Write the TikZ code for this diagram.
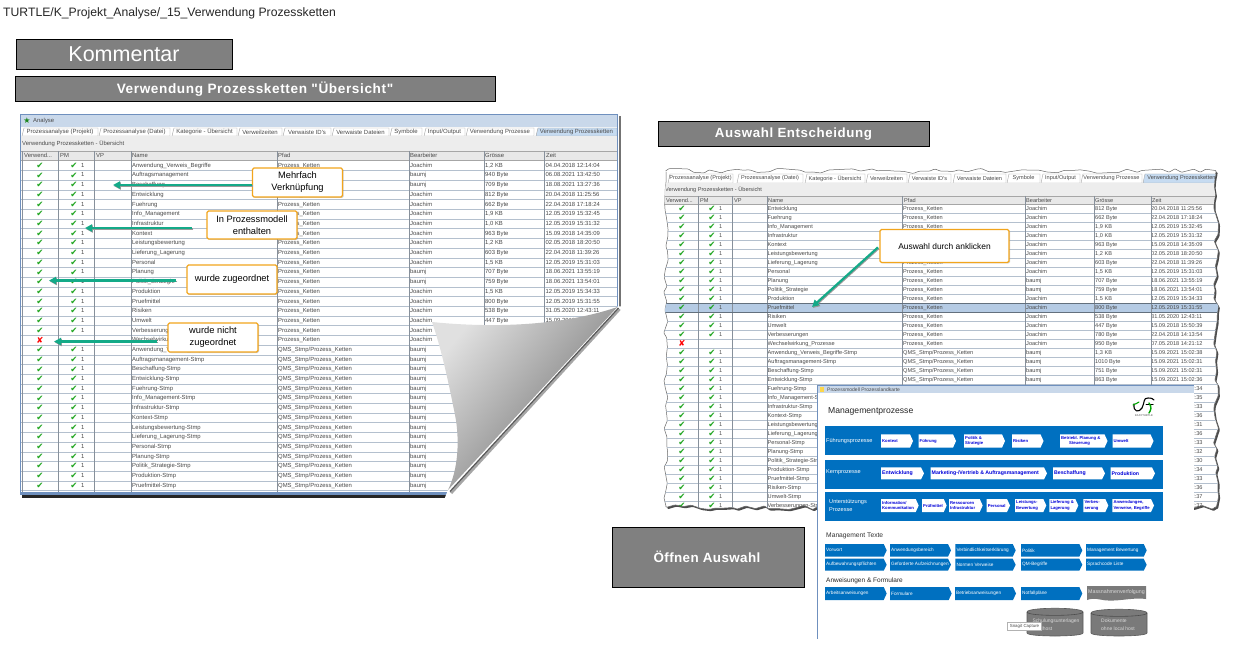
\documentclass[tikz,border=0pt]{standalone}
\usepackage{fontspec}
\setmainfont{Liberation Sans}[Ligatures=TeXOff]
\newfontfamily\dejavu{DejaVu Sans}
\usetikzlibrary{arrows.meta,shadows,decorations.pathmorphing,calc}
\definecolor{txt}{HTML}{4A4A4A}
\definecolor{rowline}{HTML}{B4C0CE}
\definecolor{bluewin}{HTML}{6F90BE}
\definecolor{titlebar}{HTML}{C9D8EA}
\definecolor{tabact}{HTML}{C6DBF1}
\definecolor{band}{HTML}{0070C0}
\definecolor{teal2}{HTML}{14AA88}
\definecolor{orange2}{HTML}{F2A51C}
\definecolor{hl}{HTML}{B5CBE4}
\definecolor{chk}{HTML}{1FA51F}
\newcommand\pk{Prozess\_Ketten}
\newcommand\qk{QMS\_Stmp/Prozess\_Ketten}
\newcommand\ja{Joachim}
\newcommand\ba{baumj}
\newcommand\vwd{Verwend...}
\newcommand\rowdata{%
0/Anwendung\_Verweis\_Begriffe/\pk/\ja/{1,2 KB}/04.04.2018 12:14:04/1,
1/Auftragsmanagement/\pk/\ba/940 Byte/06.08.2021 13:42:50/1,
2/Beschaffung/\pk/\ba/709 Byte/18.08.2021 13:27:36/1,
3/Entwicklung/\pk/\ja/812 Byte/20.04.2018 11:25:56/1,
4/Fuehrung/\pk/\ja/662 Byte/22.04.2018 17:18:24/1,
5/Info\_Management/\pk/\ja/{1,9 KB}/12.05.2019 15:32:45/1,
6/Infrastruktur/\pk/\ja/{1,0 KB}/12.05.2019 15:31:32/1,
7/Kontext/\pk/\ja/963 Byte/15.09.2018 14:35:09/1,
8/Leistungsbewertung/\pk/\ja/{1,2 KB}/02.05.2018 18:20:50/1,
9/Lieferung\_Lagerung/\pk/\ja/603 Byte/22.04.2018 11:39:26/1,
10/Personal/\pk/\ja/{1,5 KB}/12.05.2019 15:31:03/1,
11/Planung/\pk/\ba/707 Byte/18.06.2021 13:55:19/1,
12/Politik\_Strategie/\pk/\ba/759 Byte/18.06.2021 13:54:01/1,
13/Produktion/\pk/\ja/{1,5 KB}/12.05.2019 15:34:33/1,
14/Pruefmittel/\pk/\ja/800 Byte/12.05.2019 15:31:55/1,
15/Risiken/\pk/\ja/538 Byte/31.05.2020 12:43:11/1,
16/Umwelt/\pk/\ja/447 Byte/15.09.2018 15:50:39/1,
17/Verbesserungen/\pk/\ja/780 Byte/22.04.2018 14:13:54/1,
18/Wechselwirkung\_Prozesse/\pk/\ja/950 Byte/07.05.2018 14:21:12/0,
19/Anwendung\_Verweis\_Begriffe-Stmp/\qk/\ba/{1,3 KB}/15.09.2021 15:02:38/1,
20/Auftragsmanagement-Stmp/\qk/\ba/1010 Byte/15.09.2021 15:02:31/1,
21/Beschaffung-Stmp/\qk/\ba/751 Byte/15.09.2021 15:02:31/1,
22/Entwicklung-Stmp/\qk/\ba/863 Byte/15.09.2021 15:02:36/1,
23/Fuehrung-Stmp/\qk/\ba/{}/15.09.2021 15:02:34/1,
24/Info\_Management-Stmp/\qk/\ba/{}/15.09.2021 15:02:35/1,
25/Infrastruktur-Stmp/\qk/\ba/{}/15.09.2021 15:02:33/1,
26/Kontext-Stmp/\qk/\ba/{}/15.09.2021 15:02:36/1,
27/Leistungsbewertung-Stmp/\qk/\ba/{}/15.09.2021 15:02:31/1,
28/Lieferung\_Lagerung-Stmp/\qk/\ba/{}/15.09.2021 15:02:36/1,
29/Personal-Stmp/\qk/\ba/{}/15.09.2021 15:02:33/1,
30/Planung-Stmp/\qk/\ba/{}/15.09.2021 15:02:32/1,
31/Politik\_Strategie-Stmp/\qk/\ba/{}/15.09.2021 15:02:30/1,
32/Produktion-Stmp/\qk/\ba/{}/15.09.2021 15:02:34/1,
33/Pruefmittel-Stmp/\qk/\ba/{}/15.09.2021 15:02:33/1,
34/Risiken-Stmp/\qk/\ba/{}/15.09.2021 15:02:36/1,
35/Umwelt-Stmp/\qk/\ba/{}/15.09.2021 15:02:37/1,
36/Verbesserungen-Stmp/\qk/\ba/{}/15.09.2021 15:02:37/1}
% #1 prefix, #2 y of row 0, #3 row pitch, #4 first row, #5 last row, #6 left x, #7 right x
\newcommand\tablerows[7]{%
  \foreach \rI/\rN/\rP/\rB/\rS/\rT/\rM in \rowdata {%
    \pgfmathtruncatemacro{\rShow}{(\rI>=#4)&&(\rI<=#5)?1:0}%
    \ifnum\rShow=1
      \pgfmathsetmacro{\yy}{#2+#3*(\rI-#4)}%
      \draw[rowline,line width=.5pt] (#6,\yy+#3/2) -- (#7,\yy+#3/2);
      \ifnum\rM=1
        \node[chkn,name=#1c\rI] at (\cA,\yy) {\symbol{"2714}};
        \node[chkn,name=#1p\rI] at (\cB,\yy) {\symbol{"2714}};
        \node[cell,name=#1o\rI] at (\cBn,\yy) {1};
      \else
        \node[chkn,text=red,name=#1c\rI] at (\cA,\yy) {\symbol{"2718}};
      \fi
      \node[cell,name=#1n\rI] at (\cN,\yy) {\rN};
      \node[cell,name=#1f\rI] at (\cP,\yy) {\rP};
      \node[cell,name=#1b\rI] at (\cE,\yy) {\rB};
      \node[cell,name=#1s\rI] at (\cS,\yy) {\rS};
      \node[cell,name=#1t\rI] at (\cT,\yy) {\rT};
    \fi
  }%
}
% #1 name #2 x1 #3 x2 #4 y1 #5 y2 #6 fill #7 text
\newcommand\tabbox[7]{%
  \path[fill=#6,draw=black!35,line width=.4pt] (#2+2,#4) -- (#3,#4) -- (#3,#5) -- (#2,#5) -- cycle;
  \node[tabtext] (#1) at ({(#2+#3)/2},{(#4+#5)/2}) {#7};
}
% #1 name #2 x1 #3 x2 #4 y1 #5 y2 #6 style #7 text
\newcommand\chev[7]{%
  \path[#6] (#2,#4) -- (#3-3,#4) -- (#3,{(#4+#5)/2}) -- (#3-3,#5) -- (#2,#5) -- cycle;
  \node[#6 text,name=#1] at (#2+1,{(#4+#5)/2}) {#7};
}
\newcommand\cyl[4]{%
  \path[fill=black!52,draw=black!65,line width=.6pt] (#1,#3+3) -- (#1,#4-3) .. controls (#1,#4+1) and (#2,#4+1) .. (#2,#4-3) -- (#2,#3+3) .. controls (#2,#3-2) and (#1,#3-2) .. cycle;
  \draw[black!70,line width=.6pt] (#1,#3+3) .. controls (#1,#3+7.5) and (#2,#3+7.5) .. (#2,#3+3);
}
\tikzset{
  x=1pt,y=-1pt,
  cell/.style={anchor=west,inner sep=0pt,text=txt,font=\cellfont,text height=4.3pt,text depth=1.2pt},
  chkn/.style={inner sep=0pt,text=chk,font=\dejavu\fontsize{8.5}{9}\selectfont},
  tabtext/.style={inner sep=0pt,text=txt,font=\tabfont},
  heading/.style={draw=black,line width=.8pt,fill=black!50,text=white,inner sep=0pt},
  callout/.style={draw=orange2,line width=1.1pt,fill=white,rounded corners=1.5pt,text=black,
     align=center,inner sep=0pt,font=\fontsize{9.3}{12}\selectfont,
     drop shadow={shadow xshift=1pt,shadow yshift=-1pt,opacity=.35}},
  pointer/.style={draw=teal2,line width=2.2pt,-{Triangle[length=7pt,width=7pt]},
     preaction={draw=black!40,line width=1.8pt,transform canvas={xshift=.8pt,yshift=-1pt}}},
  torn/.style={decorate,decoration={random steps,segment length=8pt,amplitude=2.6pt},rounded corners=.8pt},
  whitechev/.style={fill=white},
  whitechev text/.style={anchor=west,inner sep=0pt,text=blue!85!black,align=left,font=\bfseries\fontsize{4.2}{5.2}\selectfont},
  bigchev/.style={fill=white},
  bigchev text/.style={anchor=west,inner sep=0pt,text=blue!85!black,font=\bfseries\fontsize{5.2}{7}\selectfont},
  bluechev/.style={fill=band},
  bluechev text/.style={anchor=west,inner sep=0pt,text=white,font=\fontsize{4.7}{5.5}\selectfont},
  hdr/.style={cell},
}
\begin{document}
\begin{tikzpicture}
\useasboundingbox (0,0) rectangle (1235,647);
\fill[white] (0,0) rectangle (1235,647);
\node[anchor=west,inner sep=0pt,font=\fontsize{12.2}{14}\selectfont,text=black!85] (path) at (3,13) {TURTLE/K\_Projekt\_Analyse/\_15\_Verwendung Prozessketten};
\path[heading] (16,39) rectangle (232,69.5);
\node[text=white,inner sep=0pt,font=\fontsize{21.5}{24}\selectfont] (komm) at (124,54.5) {Kommentar};
\path[heading] (15,76.5) rectangle (495.5,101.5);
\node[text=white,inner sep=0pt,font=\bfseries\fontsize{13.6}{15}\selectfont\addfontfeature{LetterSpace=4.5}] (vw) at (255,89) {Verwendung Prozessketten "Übersicht"};
\path[heading] (658,121.5) rectangle (929.5,146.5);
\node[text=white,inner sep=0pt,font=\bfseries\fontsize{13.3}{15}\selectfont\addfontfeature{LetterSpace=4.5}] (ae) at (793.5,134) {Auswahl Entscheidung};
\path[heading] (612,527) rectangle (804,587);
\node[text=white,inner sep=0pt,font=\bfseries\fontsize{13.4}{16}\selectfont\addfontfeature{LetterSpace=3}] (oe) at (707,557) {Öffnen Auswahl};

%%% LEFT WINDOW
\fill[black!55] (619,116) rectangle (620.5,310);
\fill[black!85] (22,495) rectangle (450,497.5);
\begin{scope}
\clip (19,113) rectangle (619,496);
\fill[white] (20,114) rectangle (618,495);
\fill[titlebar] (20,115) rectangle (618,127);
\draw[bluewin,line width=1.2pt] (20.5,114.5) -- (617.5,114.5);
\node[text=chk!80!black,inner sep=0pt,font=\dejavu\fontsize{8}{9}\selectfont] (star) at (27,120.5) {\symbol{"2605}};
\def\cellfont{\fontsize{5.9}{7}\selectfont}
\def\tabfont{\fontsize{6}{7}\selectfont}
\node[cell] (an) at (33,120.5) {Analyse};
\fill[white] (20,127) rectangle (618,136);
\tabbox{ta}{22}{98}{128}{136}{white}{Prozessanalyse (Projekt)}
\tabbox{tb}{99}{170}{128}{136}{white}{Prozessanalyse (Datei)}
\tabbox{tc}{172}{237}{128}{136}{white}{Kategorie - Übersicht}
\tabbox{td}{238}{282}{128}{136}{white}{Verweilzeiten}
\tabbox{te}{283}{331}{128}{136}{white}{Verwaiste ID's}
\tabbox{tf}{332}{389}{128}{136}{white}{Verwaiste Dateien}
\tabbox{tg}{390}{422}{128}{136}{white}{Symbole}
\tabbox{th}{424}{465}{128}{136}{white}{Input/Output}
\tabbox{ti}{466}{534}{128}{136}{white}{Verwendung Prozesse}
\tabbox{tj}{536}{617}{128}{136}{tabact}{Verwendung Prozessketten}
\fill[black!7] (21,136) rectangle (618,151);
\node[cell] (lbl) at (22,144) {Verwendung Prozessketten - Übersicht};
\fill[black!9] (21,151) rectangle (618,160.5);
\draw[black!35,line width=.5pt] (21,151) -- (618,151) (21,160.5) -- (618,160.5);
\foreach \nm/\hx/\hT in {h1/24/\vwd,h2/60/PM,h3/96/VP,h4/132/Name,h5/278/Pfad,h6/410/Bearbeiter,h7/485/Grösse,h8/546/Zeit}
  \node[hdr,name=\nm] at (\hx,156) {\hT};
\def\cA{40}\def\cB{74}\def\cBn{81}\def\cN{132}\def\cP{278}\def\cE{410}\def\cS{485}\def\cT{545.5}
\tablerows{l}{165.7}{9.697}{0}{33}{21}{618}
\foreach \vx in {22,58,94.5,131,277,409,484,544.5}
  \draw[black!25!rowline,line width=.5pt] (\vx,151) -- (\vx,495);
\draw[bluewin,line width=1.2pt] (20.6,114) -- (20.6,495);
\draw[bluewin,line width=1pt] (617.5,114) -- (617.5,320);
\fill[bluewin] (20,491.5) rectangle (450,494.7);
\end{scope}
% page curl
\fill[white] (617.5,306.5) -- (625,306.5) -- (625,500) -- (444,500) -- (448,490) -- cycle;
\draw[black!35,line width=3pt] (619.5,309) -- (451,493);
\draw[black!65,line width=1.2pt] (618.5,308) -- (450,491.5);
\path[top color=black!12,bottom color=black!58,shading angle=50]
  (432,322) .. controls (470,326) and (550,330) .. (617.5,307) -- (448,490)
  .. controls (458,470) and (460,440) .. (455,415) .. controls (450,390) and (442,350) .. cycle;

%%% RIGHT WINDOW
\pgfmathsetseed{11}
\path[fill=black!70,torn,transform canvas={xshift=1.6pt,yshift=-1.8pt}] (666,171) rectangle (1216,507);
\pgfmathsetseed{11}
\path[fill=white,draw=black!60,line width=.5pt,torn] (666,171) rectangle (1216,507);
\begin{scope}
\pgfmathsetseed{11}
\path[clip,torn] (666,171) rectangle (1216,507);
\def\cellfont{\fontsize{5.6}{7}\selectfont}
\def\tabfont{\fontsize{5.6}{7}\selectfont}
\tabbox{ua}{668}{733}{174}{183}{white}{Prozessanalyse (Projekt)}
\tabbox{ub}{737}{803}{174}{183}{white}{Prozessanalyse (Datei)}
\tabbox{uc}{805}{865}{174}{183}{white}{Kategorie - Übersicht}
\tabbox{ud}{866}{907}{174}{183}{white}{Verweilzeiten}
\tabbox{ue}{908}{951}{174}{183}{white}{Verwaiste ID's}
\tabbox{uf}{953}{1006}{174}{183}{white}{Verwaiste Dateien}
\tabbox{ug}{1007}{1040}{174}{183}{white}{Symbole}
\tabbox{uh}{1041}{1080}{174}{183}{white}{Input/Output}
\tabbox{ui}{1081}{1142}{174}{183}{white}{Verwendung Prozesse}
\tabbox{uj}{1143}{1220}{174}{183}{tabact}{Verwendung Prozessketten}
\fill[black!7] (660,183) rectangle (1220,196);
\node[cell] (ulbl) at (665,190) {Verwendung Prozessketten - Übersicht};
\fill[black!9] (660,196) rectangle (1220,204);
\draw[black!35,line width=.5pt] (660,196) -- (1220,196) (660,204) -- (1220,204);
\foreach \nm/\hx/\hT in {u1/666/\vwd,u2/700/PM,u3/734/VP,u4/768/Name,u5/904/Pfad,u6/1026/Bearbeiter,u7/1095/Grösse,u8/1152/Zeit}
  \node[hdr,name=\nm] at (\hx,200.7) {\hT};
\fill[hl] (660,303.2) rectangle (1220,312.2);
\def\cA{682}\def\cB{712}\def\cBn{719}\def\cN{767.5}\def\cP{903}\def\cE{1026}\def\cS{1095}\def\cT{1151}
\tablerows{r}{208.7}{9}{3}{36}{660}{1220}
\foreach \vx in {698,732,767,902,1025,1094,1151}
  \draw[black!25!rowline,line width=.5pt] (\vx,196) -- (\vx,512);
\draw[black!45!hl,line width=.5pt] (660,303.2) -- (1220,303.2) (660,312.2) -- (1220,312.2);
\end{scope}

%%% OVERLAY WINDOW
\fill[white] (817,384.5) rectangle (1194,639);
\fill[titlebar] (818,385.5) rectangle (1194,393);
\draw[bluewin,line width=.8pt] (817,385) -- (1194,385);
\fill[bluewin] (816.5,385) rectangle (818.2,639);
\fill[yellow!60!orange!70] (820,387) rectangle (824,391.5);
\node[anchor=west,inner sep=0pt,text=txt,font=\fontsize{5}{6}\selectfont] (wt) at (827,389.3) {Prozessmodell Prozesslandkarte};
\node[anchor=west,inner sep=0pt,text=black!85,font=\fontsize{8.6}{11}\selectfont] (mp) at (828,411) {Managementprozesse};
% logo
\draw[black,line width=1.1pt,line cap=round] (1134,404) .. controls (1133,412) and (1139,413) .. (1142,408) .. controls (1145,402) and (1143,398) .. (1148,398) .. controls (1152,398) and (1153,399) .. (1154,400);
\draw[black,line width=1pt,line cap=round] (1146,404) -- (1153,404);
\draw[green!65!black,line width=1.4pt,line cap=round] (1149,403) .. controls (1152,407) and (1151,410) .. (1149,413);
\draw[green!65!black,line width=1.1pt,line cap=round] (1133,405) .. controls (1136,403) and (1137,404) .. (1139,402);
\node[inner sep=0pt,text=black!70,font=\fontsize{2.7}{3}\selectfont] (lg) at (1144,415.5) {EASYTURTLE};
\fill[band] (825,426) rectangle (1163,454.5);
\fill[band] (825,460) rectangle (1163,488.5);
\fill[band] (825,492) rectangle (1163,520.5);
\node[anchor=west,inner sep=0pt,text=white,font=\fontsize{5.6}{7}\selectfont] (l1) at (826,441) {Führungsprozesse};
\node[anchor=west,inner sep=0pt,text=white,font=\fontsize{5.6}{7}\selectfont] (l2) at (826,472) {Kernprozesse};
\node[anchor=west,inner sep=0pt,text=white,align=left,font=\fontsize{5.6}{7.5}\selectfont] (l3) at (829,505.5) {Unterstützungs\\ Prozesse};
\chev{a1}{881}{913}{434.3}{447.7}{whitechev}{Kontext}
\chev{a2}{918.5}{956}{434.3}{447.7}{whitechev}{Führung}
\chev{a3}{964}{1005}{434.3}{447.7}{whitechev}{Politik \&\\Strategie}
\chev{a4}{1012}{1043.5}{434.3}{447.7}{whitechev}{Risiken}
\chev{a5}{1060}{1107.5}{434.3}{447.7}{whitechev}{Betriebl. Planung \&\\\hspace*{8pt}Steuerung}
\chev{a6}{1112.5}{1153.5}{434.3}{447.7}{whitechev}{Umwelt}
\chev{b1}{881}{924}{467.3}{479.3}{bigchev}{Entwicklung}
\chev{b2}{930.5}{1047}{467.3}{479.3}{bigchev}{Marketing-/Vertrieb \& Auftragsmanagement}
\chev{b3}{1053}{1105}{467.3}{479.3}{bigchev}{Beschaffung}
\chev{b4}{1110.5}{1155}{467.3}{479.3}{bigchev}{Produktion}
\chev{c1}{881}{918.7}{499}{512}{whitechev}{Information/\\Kommunikation}
\chev{c2}{922}{946.7}{499}{512}{whitechev}{Prüfmittel}
\chev{c3}{949}{982.7}{499}{512}{whitechev}{Ressourcen\\Infrastruktur}
\chev{c4}{986.7}{1010}{499}{512}{whitechev}{Personal}
\chev{c5}{1015}{1046.3}{499}{512}{whitechev}{Leistungs-\\Bewertung}
\chev{c6}{1049.3}{1078.3}{499}{512}{whitechev}{Lieferung \&\\Lagerung}
\chev{c7}{1083.3}{1108.3}{499}{512}{whitechev}{Verbes-\\serung}
\chev{c8}{1112.3}{1154}{499}{512}{whitechev}{Anwendungen,\\Verweise, Begriffe}
\node[anchor=west,inner sep=0pt,text=black!80,font=\fontsize{6.7}{8}\selectfont] (mt) at (826,535.7) {Management Texte};
\chev{d1}{825}{886.7}{544}{556.7}{bluechev}{Vorwort}
\chev{d2}{890}{951}{544}{556.7}{bluechev}{Anwendungsbereich}
\chev{d3}{955.3}{1015.7}{544}{556.7}{bluechev}{Verbindlichkeitserklärung}
\chev{d4}{1021}{1082.3}{544}{556.7}{bluechev}{Politik}
\chev{d5}{1086}{1146.7}{544}{556.7}{bluechev}{Management Bewertung}
\chev{e1}{825}{886.7}{558.7}{570.7}{bluechev}{Aufbewahrungspflichten}
\chev{e2}{890}{951}{558.7}{570.7}{bluechev}{Geforderte Aufzeichnungen}
\chev{e3}{955.3}{1015.7}{558.7}{570.7}{bluechev}{Normen Verweise}
\chev{e4}{1021}{1082.3}{558.7}{570.7}{bluechev}{QM-Begriffe}
\chev{e5}{1086}{1146.7}{558.7}{570.7}{bluechev}{Sprachcode Liste}
\node[anchor=west,inner sep=0pt,text=black!85,font=\fontsize{6.5}{9}\selectfont] (af) at (826,580.7) {Anweisungen \& Formulare};
\chev{f1}{825}{886.7}{587}{600}{bluechev}{Arbeitsanweisungen}
\chev{f2}{890}{951.7}{587}{600}{bluechev}{Formulare}
\chev{f3}{955}{1016}{587}{600}{bluechev}{Betriebsanweisungen}
\chev{f4}{1021}{1082.3}{587}{600}{bluechev}{Notfallpläne}
\path[fill=black!52] (1087,586) -- (1146,586) -- (1146,599) .. controls (1130,597) and (1115,603) .. (1100,599.5) .. controls (1095,598.5) and (1091,598.5) .. (1087,600) -- cycle;
\node[inner sep=0pt,text=white!85!black,font=\fontsize{5.3}{7}\selectfont] (mv) at (1116.5,592) {Massnahmenverfolgung};
\cyl{1027}{1083}{609}{636}
\cyl{1091}{1147}{610}{636}
\node[inner sep=0pt,text=white!85!black,align=left,font=\fontsize{5}{8}\selectfont] (s1) at (1056,625) {Schulungsunterlagen\\localhost};
\node[inner sep=0pt,text=white!85!black,align=left,font=\fontsize{5}{8}\selectfont] (s2) at (1118,625) {Dokumente\\ohne local host};
\node[fill=white,draw=black!30,line width=.5pt,inner sep=0pt,minimum width=34pt,minimum height=8pt,text=txt,font=\fontsize{4.4}{5}\selectfont] (snag) at (1024.5,626) {Snagit Capture};

%%% CALLOUTS
\node[callout,minimum width=90pt,minimum height=29pt] (c1) at (297.5,182.5) {Mehrfach\\Verknüpfung};
\node[callout,minimum width=90pt,minimum height=28pt] (c2) at (252,225) {In Prozessmodell\\enthalten};
\node[callout,minimum width=90pt,minimum height=29pt] (c3) at (232,279.5) {wurde zugeordnet};
\node[callout,minimum width=90pt,minimum height=29pt] (c4) at (213,337.5) {wurde nicht\\zugeordnet};
\node[callout,minimum width=129pt,minimum height=33pt,font=\fontsize{8.4}{12}\selectfont] (c5) at (944.5,246) {Auswahl durch anklicken};
\coordinate (t1) at (113,185);
\coordinate (t2) at (85,228);
\coordinate (t3) at (49,280.5);
\coordinate (t4) at (54,341.5);
\coordinate (t5) at (812,307);
\draw[pointer] (c1.west |- t1) -- (t1);
\draw[pointer,shorten <=14pt] (c2.west |- t2) -- (t2);
\draw[pointer,shorten <=10pt] (c3.west |- t3) -- (t3);
\draw[pointer,shorten <=10pt] (c4.west |- t4) -- (t4);
\draw[pointer,shorten <=2pt] (c5.west) -- (t5);
\end{tikzpicture}
\end{document}
